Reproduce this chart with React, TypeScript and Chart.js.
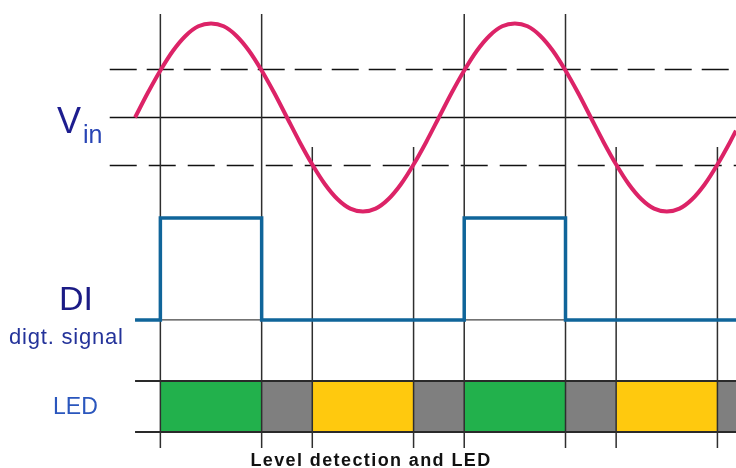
import React, { useEffect, useRef } from "react";
import { Chart, registerables } from "chart.js";

Chart.register(...registerables);

// ---- data (phase in degrees) ----
const vinTime = [0, 15, 30, 45, 60, 75, 90, 105, 120, 135, 150, 165, 180, 195, 210, 225, 240, 255, 270, 285, 300, 315, 330, 345, 360,
  375, 390, 405, 420, 435, 450, 465, 480, 495, 510, 525, 540, 555, 570, 585, 600, 615, 630, 645, 660, 675, 690, 705, 712];
const vinValue = [0, 0.26, 0.5, 0.71, 0.87, 0.97, 1, 0.97, 0.87, 0.71, 0.5, 0.26, 0, -0.26, -0.5, -0.71, -0.87, -0.97, -1, -0.97, -0.87, -0.71, -0.5, -0.26, 0,
  0.26, 0.5, 0.71, 0.87, 0.97, 1, 0.97, 0.87, 0.71, 0.5, 0.26, 0, -0.26, -0.5, -0.71, -0.87, -0.97, -1, -0.97, -0.87, -0.71, -0.5, -0.26, -0.14];

const thresholdHigh = 0.51;
const thresholdLow = -0.51;

const diTime = [0, 30, 150, 390, 510, 712];
const diLevel = [0, 1, 0, 1, 0, 0];

const crossTime = [30, 150, 210, 330, 390, 510, 570, 690];
const crossKind = ["hi", "hi", "lo", "lo", "hi", "hi", "lo", "lo"];

const ledStart = [30, 150, 210, 330, 390, 510, 570, 690];
const ledEnd = [150, 210, 330, 390, 510, 570, 690, 712];
const ledState = ["high", "mid", "low", "mid", "high", "mid", "low", "mid"];

const labelVin = ["V", "in"];
const labelDI = "DI";
const labelDISub = "digt. signal";
const labelLED = "LED";
const chartTitle = "Level detection and LED";

// ---- layout constants (y-scale units, 1 unit = Vin amplitude) ----
const X_MIN = -160;
const X_MAX = 712;
const Y_MIN = -3.729;
const Y_MAX = 1.25;
const DI_LOW = -2.154;
const DI_HIGH = -1.069;
const LED_TOP = -2.803;
const LED_BOTTOM = -3.346;
const VLINE_TOP_HI = 1.101;
const VLINE_TOP_LO = -0.314;
const VLINE_BOTTOM = -3.516;
const AXIS_START = -30;

const ledColors: Record<string, string> = { high: "#22b14c", mid: "#7f7f7f", low: "#ffc90e" };
const FONT = '"Liberation Sans", Arial, sans-serif';

const textPlugin = {
  id: "labels",
  afterDraw(chart: any) {
    const ctx = chart.ctx as CanvasRenderingContext2D;
    const y = chart.scales.y;
    const vinPx = y.getPixelForValue(0);
    const diPx = y.getPixelForValue(DI_LOW);
    const ledPx = (y.getPixelForValue(LED_TOP) + y.getPixelForValue(LED_BOTTOM)) / 2;
    ctx.save();
    ctx.textAlign = "left";
    ctx.textBaseline = "alphabetic";
    // V_in
    ctx.fillStyle = "#1d1d8f";
    ctx.font = `36px ${FONT}`;
    ctx.fillText(labelVin[0], 57, vinPx + 16);
    ctx.fillStyle = "#2845b5";
    ctx.font = `25px ${FONT}`;
    ctx.fillText(labelVin[1], 83, vinPx + 26);
    // DI
    ctx.fillStyle = "#1b1b85";
    ctx.font = `34px ${FONT}`;
    ctx.fillText(labelDI, 59, diPx - 10);
    ctx.fillStyle = "#24339a";
    ctx.font = `22px ${FONT}`;
    (ctx as any).letterSpacing = "0.8px";
    ctx.fillText(labelDISub, 9, diPx + 24);
    (ctx as any).letterSpacing = "0px";
    // LED
    ctx.fillStyle = "#2a56bd";
    ctx.font = `23px ${FONT}`;
    ctx.fillText(labelLED, 53, ledPx + 8);
    // Title
    ctx.fillStyle = "#111111";
    ctx.font = `bold 18px ${FONT}`;
    ctx.textAlign = "center";
    (ctx as any).letterSpacing = "1.4px";
    ctx.fillText(chartTitle, 371, 466);
    (ctx as any).letterSpacing = "0px";
    ctx.restore();
  },
};

function hLine(x0: number, x1: number, yv: number, color: string, width: number, dash: number[] = []) {
  return {
    type: "line" as const,
    data: [{ x: x0, y: yv }, { x: x1, y: yv }],
    borderColor: color,
    borderWidth: width,
    borderDash: dash,
    pointRadius: 0,
    fill: false,
  };
}

export default function App() {
  const ref = useRef<HTMLCanvasElement>(null);
  useEffect(() => {
    if (!ref.current) return;
    const datasets: any[] = [];
    // sine (on top)
    datasets.push({
      type: "line",
      data: vinTime.map((t, i) => ({ x: t, y: vinValue[i] })),
      borderColor: "#dc2367",
      borderWidth: 4,
      pointRadius: 0,
      cubicInterpolationMode: "monotone",
      fill: false,
    });
    // DI signal
    datasets.push({
      type: "line",
      data: diTime.map((t, i) => ({ x: t, y: diLevel[i] ? DI_HIGH : DI_LOW })),
      borderColor: "#10659a",
      borderWidth: 3.5,
      pointRadius: 0,
      stepped: "before",
      fill: false,
    });
    // vertical lines
    crossTime.forEach((t, i) => {
      datasets.push({
        type: "line",
        data: [{ x: t, y: crossKind[i] === "hi" ? VLINE_TOP_HI : VLINE_TOP_LO }, { x: t, y: VLINE_BOTTOM }],
        borderColor: "#2e2e2e",
        borderWidth: 1.5,
        pointRadius: 0,
        fill: false,
      });
    });
    // horizontal reference lines
    datasets.push(hLine(AXIS_START, X_MAX, 0, "#111111", 1.6));
    datasets.push(hLine(AXIS_START, X_MAX, thresholdHigh, "#111111", 1.6, [27, 10]));
    datasets.push(hLine(AXIS_START, X_MAX, thresholdLow, "#111111", 1.6, [27, 12]));
    datasets.push(hLine(0, X_MAX, DI_LOW, "#444444", 1.2));
    datasets.push(hLine(0, X_MAX, LED_TOP, "#2a2a2a", 2));
    datasets.push(hLine(0, X_MAX, LED_BOTTOM, "#2a2a2a", 2));
    // LED blocks (drawn first)
    ledStart.forEach((s, i) => {
      datasets.push({
        type: "line",
        data: [{ x: s, y: LED_TOP }, { x: ledEnd[i], y: LED_TOP }],
        borderWidth: 0,
        borderColor: "rgba(0,0,0,0)",
        backgroundColor: ledColors[ledState[i]],
        pointRadius: 0,
        fill: { value: LED_BOTTOM },
      });
    });

    const chart = new Chart(ref.current, {
      type: "line",
      data: { datasets },
      plugins: [textPlugin],
      options: {
        animation: false,
        responsive: false,
        layout: { padding: 0 },
        plugins: { legend: { display: false }, tooltip: { enabled: false }, title: { display: false } },
        scales: {
          x: { type: "linear", min: X_MIN, max: X_MAX, display: false },
          y: { type: "linear", min: Y_MIN, max: Y_MAX, display: false },
        },
      },
    } as any);
    return () => chart.destroy();
  }, []);
  return (
    <div style={{ position: "absolute", left: 0, top: 0, width: 736, height: 468, background: "#fff" }}>
      <canvas ref={ref} width={736} height={468} />
    </div>
  );
}
